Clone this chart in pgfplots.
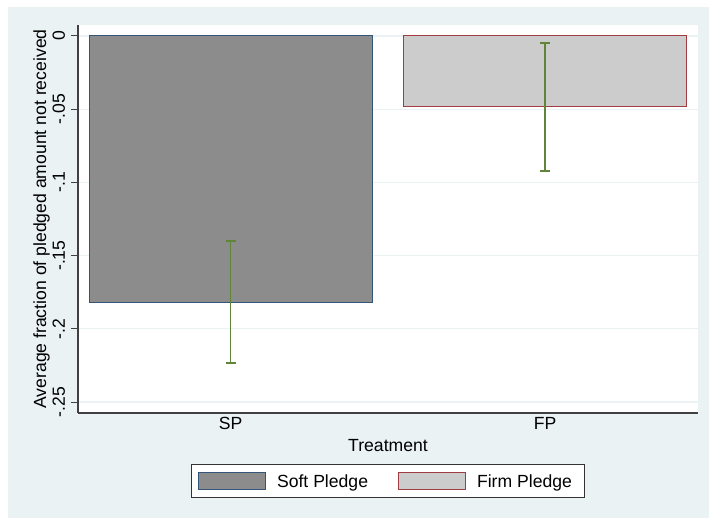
\documentclass[border=0pt]{standalone}
\usepackage{fontspec}
\setmainfont{Liberation Sans}
\usepackage{pgfplots}
\pgfplotsset{compat=1.18}
\definecolor{bgc}{RGB}{234,242,243}
\definecolor{spfill}{RGB}{140,140,140}
\definecolor{spline}{RGB}{50,85,120}
\definecolor{fpfill}{RGB}{204,204,204}
\definecolor{fpline}{RGB}{160,60,66}
\definecolor{cigreen}{RGB}{96,132,56}
\newcommand{\chartfont}{\fontsize{17.6bp}{20bp}\selectfont}
\pgfplotsset{
  mylegend/.style={legend image code/.code={
    \draw[##1] (0bp,-8.5bp) rectangle (67bp,8.5bp);
    \path (78bp,0bp);}}
}
\begin{document}
\chartfont
\begin{tikzpicture}[x=1bp,y=1bp]
\fill[white] (0,0) rectangle (709,518);
\fill[bgc] (8,0) rectangle (709,511);
\begin{axis}[
  at={(78bp,105bp)}, anchor=south west,
  scale only axis, width=620bp, height=388bp,
  xmin=0.515, xmax=2.486, ymin=-0.2575, ymax=0.0075,
  axis background/.style={fill=white},
  axis x line*=bottom, axis y line*=left,
  axis line style={-, draw=black!75, line width=1.2bp},
  xtick={1,2}, xticklabels={SP,FP},
  ytick={-0.25,-0.2,-0.15,-0.1,-0.05,0},
  yticklabels={-.25,-.2,-.15,-.1,-.05,0},
  tick align=outside, major tick length=7bp,
  xtick style={draw=none},
  ytick style={draw=black!75, line width=1bp},
  ymajorgrids, grid style={draw=bgc, line width=1.2bp},
  tick label style={font=\chartfont},
  xticklabel style={anchor=base, yshift=-10bp, inner sep=0pt},
  yticklabel style={xshift=-6bp, rotate=90, anchor=base, inner sep=0pt},
  xlabel={Treatment},
  ylabel={Average fraction of pledged amount not received},
  every axis x label/.style={at={(axis description cs:0.5,-0.0993)}, anchor=base, inner sep=0pt, font=\chartfont},
  every axis y label/.style={at={(axis description cs:-0.0516,0.5)}, rotate=90, anchor=base, inner sep=0pt, font=\chartfont},
  legend style={at={(axis description cs:0.5,-0.1314)}, anchor=north,
    legend columns=2, draw=black!80, line width=1bp, fill=white,
    inner xsep=7bp, inner ysep=7.5bp, column sep=0bp,
    /tikz/every even column/.append style={column sep=30bp},
    nodes={inner sep=0pt, anchor=west, text height=13bp, text depth=0bp},
    font=\chartfont},
]
\addplot[ybar, bar width=0.9, bar shift=0pt, fill=spfill, draw=spline, line width=1bp, mylegend] coordinates {(1,-0.1817)};
\addlegendentry{Soft Pledge}
\addplot[ybar, bar width=0.9, bar shift=0pt, fill=fpfill, draw=fpline, line width=1bp, mylegend] coordinates {(2,-0.0485)};
\addlegendentry{Firm Pledge\hspace*{6bp}}
\addplot[forget plot, mark=none, draw=none,
  error bars/.cd, y dir=both, y explicit,
  error bar style={line width=1.6bp, draw=cigreen},
  error mark options={rotate=90, mark size=5bp, line width=1.6bp, draw=cigreen}]
  coordinates {(1,-0.1817) +- (0,0.0417) (2,-0.0485) +- (0,0.0437)};
\end{axis}
\end{tikzpicture}
\end{document}
